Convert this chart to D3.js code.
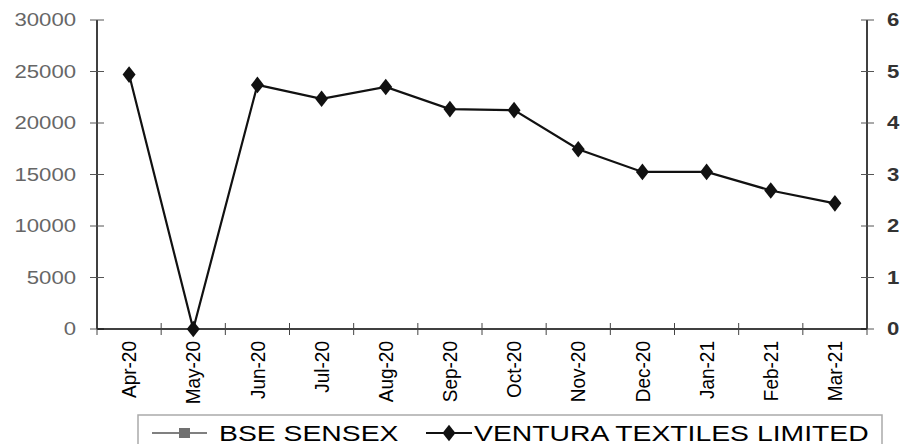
<!DOCTYPE html>
<html>
<head>
<meta charset="utf-8">
<script src="https://cdn.jsdelivr.net/npm/d3@7"></script>
<style>
  body { margin: 0; background: #fff; }
  svg { display: block; font-family: "Liberation Sans", Arial, sans-serif; }
</style>
</head>
<body>
<div id="chart-area"></div>
<script>
// Data
var months = ["Apr-20", "May-20", "Jun-20", "Jul-20", "Aug-20", "Sep-20",
              "Oct-20", "Nov-20", "Dec-20", "Jan-21", "Feb-21", "Mar-21"];
var ventura = [4.94, 0, 4.74, 4.47, 4.70, 4.27, 4.25, 3.49, 3.05, 3.05, 2.69, 2.44];
var sensex = [null, null, null, null, null, null, null, null, null, null, null, null]; // no values shown
var leftTicks = [0, 5000, 10000, 15000, 20000, 25000, 30000];
var rightTicks = [0, 1, 2, 3, 4, 5, 6];

var W = 900, H = 444;
var margin = { left: 97, right: 33, top: 20, bottom: 115 };
var plotRight = W - margin.right;
var plotBottom = H - margin.bottom;
var stretch = 1.23; // the text in the picture is wider than tall

var svg = d3.select("#chart-area")
  .append("svg")
    .attr("width", W)
    .attr("height", H);

var x = d3.scaleBand()
  .domain(months)
  .range([margin.left, plotRight])
  .padding(0);

var yL = d3.scaleLinear().domain([0, 30000]).range([plotBottom, margin.top]);
var yR = d3.scaleLinear().domain([0, 6]).range([plotBottom, margin.top]);

// Left axis
var leftAxis = svg.append("g");
leftAxis.append("line")
  .attr("x1", margin.left).attr("x2", margin.left)
  .attr("y1", yL(30000)).attr("y2", yL(0))
  .attr("stroke", "#000").attr("stroke-width", 1.5);
leftAxis.selectAll(".tk").data(leftTicks).enter().append("line")
  .attr("x1", margin.left - 7).attr("x2", margin.left + 7)
  .attr("y1", d => yL(d)).attr("y2", d => yL(d))
  .attr("stroke", "#555").attr("stroke-width", 1);
leftAxis.selectAll(".lbl").data(leftTicks).enter().append("g")
  .attr("transform", d => "translate(76," + yL(d) + ") scale(" + stretch + ",1)")
  .append("text")
    .attr("text-anchor", "end")
    .attr("dy", "0.36em")
    .attr("font-size", "18px")
    .attr("fill", "#666")
    .text(d => d);

// Right axis
var rightAxis = svg.append("g");
rightAxis.append("line")
  .attr("x1", plotRight).attr("x2", plotRight)
  .attr("y1", yR(6)).attr("y2", yR(0))
  .attr("stroke", "#000").attr("stroke-width", 1.5);
rightAxis.selectAll(".tk").data(rightTicks).enter().append("line")
  .attr("x1", plotRight - 6).attr("x2", plotRight + 7)
  .attr("y1", d => yR(d)).attr("y2", d => yR(d))
  .attr("stroke", "#555").attr("stroke-width", 1);
rightAxis.selectAll(".lbl").data(rightTicks).enter().append("g")
  .attr("transform", d => "translate(" + (plotRight + 20) + "," + yR(d) + ") scale(" + stretch + ",1)")
  .append("text")
    .attr("text-anchor", "start")
    .attr("dy", "0.36em")
    .attr("font-size", "18px")
    .attr("font-weight", "bold")
    .attr("fill", "#333")
    .text(d => d);

// Bottom axis
var bottomAxis = svg.append("g");
bottomAxis.append("line")
  .attr("x1", margin.left).attr("x2", plotRight)
  .attr("y1", plotBottom).attr("y2", plotBottom)
  .attr("stroke", "#000").attr("stroke-width", 1.5);
var bounds = months.map(m => x(m)).concat([x(months[months.length - 1]) + x.bandwidth()]);
bottomAxis.selectAll(".tk").data(bounds).enter().append("line")
  .attr("x1", d => d).attr("x2", d => d)
  .attr("y1", plotBottom - 6).attr("y2", plotBottom + 6)
  .attr("stroke", "#444").attr("stroke-width", 1);
bottomAxis.selectAll(".lbl").data(months).enter().append("g")
  .attr("transform", d => "translate(" + (x(d) + x.bandwidth() / 2) + "," + (plotBottom + 12) + ") scale(1.08,1) rotate(-90)")
  .append("text")
    .attr("text-anchor", "end")
    .attr("dy", "0.35em")
    .attr("font-size", "19px")
    .attr("fill", "#000")
    .text(d => d);

// Ventura line (right axis)
var pts = months.map((m, i) => ({ m: m, v: ventura[i] }));
var line = d3.line()
  .x(d => x(d.m) + x.bandwidth() / 2)
  .y(d => yR(d.v));

svg.append("path")
  .datum(pts)
  .attr("d", line)
  .attr("fill", "none")
  .attr("stroke", "#111")
  .attr("stroke-width", 2.2);

var diamond = d3.symbol().type(d3.symbolDiamond).size(80);
svg.selectAll(".pt").data(pts).enter().append("path")
  .attr("d", diamond)
  .attr("transform", d => "translate(" + (x(d.m) + x.bandwidth() / 2) + "," + yR(d.v) + ") scale(1.35,1)")
  .attr("fill", "#111");

// Legend
var legend = svg.append("g");
legend.append("rect")
  .attr("x", 138).attr("y", 415)
  .attr("width", 744).attr("height", 40)
  .attr("fill", "#fff")
  .attr("stroke", "#aaa")
  .attr("stroke-width", 1.5);

var legY = 433;
legend.append("line")
  .attr("x1", 152).attr("x2", 207).attr("y1", legY).attr("y2", legY)
  .attr("stroke", "#808080").attr("stroke-width", 2);
legend.append("rect")
  .attr("x", 179).attr("y", legY - 5).attr("width", 11).attr("height", 10)
  .attr("fill", "#707070");
legend.append("g")
  .attr("transform", "translate(219," + legY + ") scale(1.26,1)")
  .append("text")
    .attr("dy", "0.36em")
    .attr("font-size", "22.5px")
    .attr("fill", "#000")
    .text("BSE SENSEX");

legend.append("line")
  .attr("x1", 426).attr("x2", 472).attr("y1", legY).attr("y2", legY)
  .attr("stroke", "#111").attr("stroke-width", 2);
legend.append("path")
  .attr("d", diamond)
  .attr("transform", "translate(449," + legY + ") scale(1.35,1)")
  .attr("fill", "#111");
legend.append("g")
  .attr("transform", "translate(474," + legY + ") scale(1.26,1)")
  .append("text")
    .attr("dy", "0.36em")
    .attr("font-size", "22.5px")
    .attr("fill", "#000")
    .text("VENTURA TEXTILES LIMITED");
</script>
</body>
</html>
